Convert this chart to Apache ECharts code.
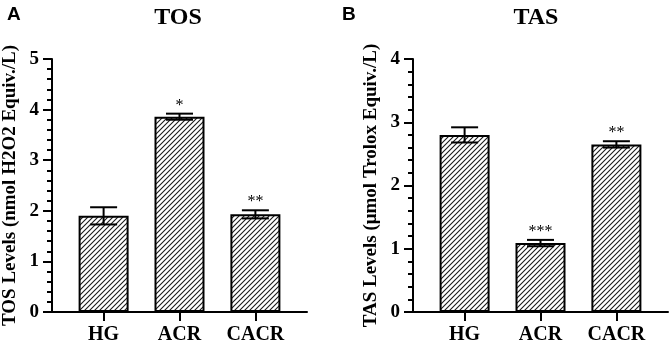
<!DOCTYPE html>
<html>
<head>
<meta charset="utf-8">
<script src="https://cdn.jsdelivr.net/npm/echarts@6/dist/echarts.min.js"></script>
<style>
  html, body { margin: 0; padding: 0; background: #fff; }
  #container { width: 671px; height: 349px; }
</style>
</head>
<body>
<div id="container"></div>
<script>
// groups on the x axis
const groups = ['HG', 'ACR', 'CACR'];

// TOS panel (nmol H2O2 Equiv./L)
const tosMean = [1.90, 3.86, 1.93];
const tosErr  = [0.17, 0.06, 0.08];
const tosSig  = ['', '*', '**'];

// TAS panel (µmol Trolox Equiv./L)
const tasMean = [2.80, 1.09, 2.65];
const tasErr  = [0.12, 0.05, 0.05];
const tasSig  = ['', '***', '**'];

const serif = '"Liberation Serif", "Times New Roman", serif';
const sans  = '"Liberation Sans", Arial, sans-serif';

// diagonal hatch used to fill the bars
function makeHatch() {
    const c = document.createElement('canvas');
    const s = 5;
    c.width = s; c.height = s;
    const ctx = c.getContext('2d');
    ctx.strokeStyle = '#1a1a1a';
    ctx.lineWidth = 1.1;
    ctx.beginPath();
    ctx.moveTo(-1, s + 1); ctx.lineTo(s + 1, -1);
    ctx.moveTo(-1, 1);     ctx.lineTo(1, -1);
    ctx.moveTo(s - 1, s + 1); ctx.lineTo(s + 1, s - 1);
    ctx.stroke();
    return c;
}
const hatch = makeHatch();

function barData(mean) {
    return mean.map((v, i) => [i, v]);
}
function errData(mean, err, sig) {
    return mean.map((v, i) => [i, v - err[i], v + err[i], sig[i]]);
}

function renderErr(params, api) {
    const x = api.value(0);
    const lo = api.coord([x, api.value(1)]);
    const hi = api.coord([x, api.value(2)]);
    const half = 13.5;
    const st = { stroke: '#000', lineWidth: 2 };
    const kids = [
        { type: 'line', shape: { x1: lo[0], y1: lo[1], x2: hi[0], y2: hi[1] }, style: st },
        { type: 'line', shape: { x1: hi[0] - half, y1: hi[1], x2: hi[0] + half, y2: hi[1] }, style: st },
        { type: 'line', shape: { x1: lo[0] - half, y1: lo[1], x2: lo[0] + half, y2: lo[1] }, style: st }
    ];
    const sig = api.value(3);
    if (sig) {
        kids.push({
            type: 'text',
            x: hi[0], y: hi[1] - 8,
            style: {
                text: sig, fill: '#000', font: '16px ' + serif,
                align: 'center', verticalAlign: 'middle'
            }
        });
    }
    return { type: 'group', children: kids };
}

function xAxisFor(gi) {
    return {
        gridIndex: gi,
        type: 'value',
        min: -0.68,
        max: 2.68,
        splitLine: { show: false },
        axisLine: { show: true, onZero: false, lineStyle: { color: '#000', width: 2 } },
        axisTick: { show: true, customValues: [0, 1, 2], length: 9, inside: false,
                    lineStyle: { color: '#000', width: 2 } },
        axisLabel: {
            customValues: [0, 1, 2],
            formatter: v => groups[Math.round(v)],
            margin: 13,
            color: '#000', fontFamily: serif, fontWeight: 'bold', fontSize: 20
        }
    };
}

function yAxisFor(gi, max, name) {
    return {
        gridIndex: gi,
        type: 'value',
        min: 0,
        max: max,
        interval: 1,
        name: name,
        nameLocation: 'middle',
        nameGap: 32,
        nameTextStyle: { color: '#000', fontFamily: serif, fontWeight: 'bold', fontSize: 19 },
        splitLine: { show: false },
        axisLine: { show: true, onZero: false, lineStyle: { color: '#000', width: 2 } },
        axisTick: { length: 9, lineStyle: { color: '#000', width: 2 } },
        minorTick: { show: true, splitNumber: 5, length: 5, lineStyle: { color: '#000', width: 2 } },
        axisLabel: { margin: 13, color: '#000', fontFamily: serif, fontWeight: 'bold', fontSize: 19 }
    };
}

const barStyle = {
    color: { image: hatch, repeat: 'repeat' },
    borderColor: '#000',
    borderWidth: 2
};

let option = {
    animation: false,
    backgroundColor: '#fff',
    title: [
        { text: 'A', left: 2, top: 0, textStyle: { fontFamily: sans, fontWeight: 'bold', fontSize: 19, color: '#000' } },
        { text: 'TOS', left: 173, top: 1, textAlign: 'center',
          textStyle: { fontFamily: serif, fontWeight: 'bold', fontSize: 24, color: '#000' } },
        { text: 'B', left: 337, top: 0, textStyle: { fontFamily: sans, fontWeight: 'bold', fontSize: 19, color: '#000' } },
        { text: 'TAS', left: 531, top: 1, textAlign: 'center',
          textStyle: { fontFamily: serif, fontWeight: 'bold', fontSize: 24, color: '#000' } }
    ],
    grid: [
        { left: 51, top: 59, width: 256, height: 253 },
        { left: 413, top: 59, width: 255, height: 253 }
    ],
    xAxis: [xAxisFor(0), xAxisFor(1)],
    yAxis: [
        yAxisFor(0, 5, 'TOS Levels (nmol H2O2 Equiv./L)'),
        yAxisFor(1, 4, 'TAS Levels (μmol Trolox Equiv./L)')
    ],
    series: [
        { type: 'bar', xAxisIndex: 0, yAxisIndex: 0, barWidth: 50, data: barData(tosMean), itemStyle: barStyle },
        { type: 'bar', xAxisIndex: 1, yAxisIndex: 1, barWidth: 50, data: barData(tasMean), itemStyle: barStyle },
        { type: 'custom', xAxisIndex: 0, yAxisIndex: 0, renderItem: renderErr, data: errData(tosMean, tosErr, tosSig), z: 5 },
        { type: 'custom', xAxisIndex: 1, yAxisIndex: 1, renderItem: renderErr, data: errData(tasMean, tasErr, tasSig), z: 5 }
    ]
};

let chartDom = document.getElementById('container');
let chrt = echarts.init(chartDom, null, { renderer: 'canvas' });
chrt.setOption(option);
</script>
</body>
</html>
